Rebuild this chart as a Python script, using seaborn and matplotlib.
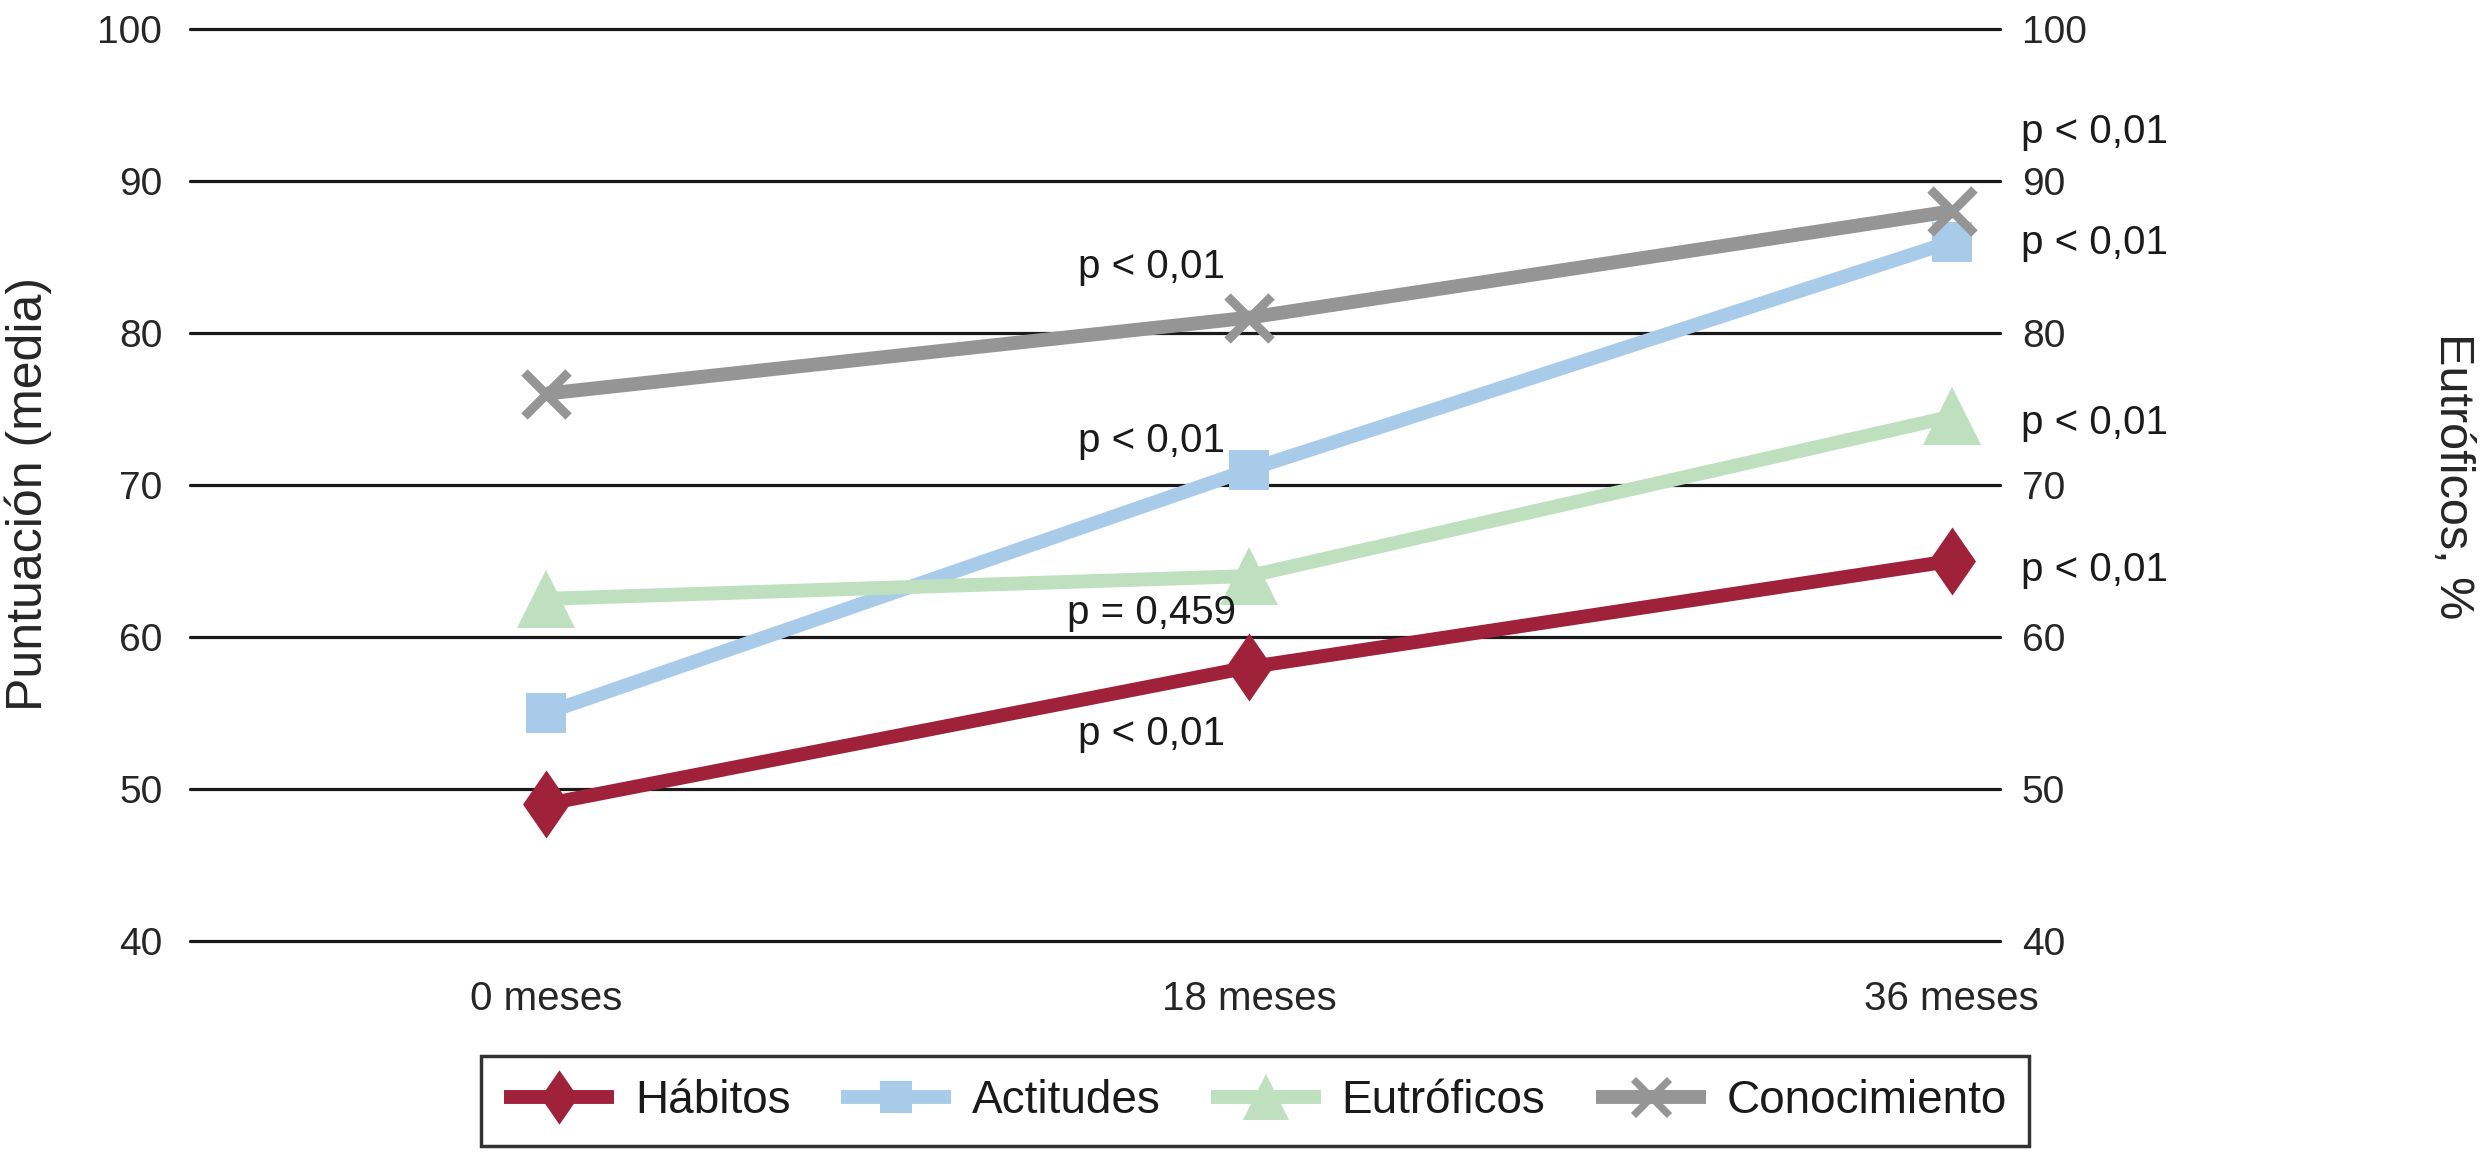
import matplotlib
matplotlib.use("Agg")
import matplotlib.pyplot as plt
from matplotlib.lines import Line2D
import pandas as pd
import seaborn as sns

months = ["0 meses", "18 meses", "36 meses"]
habitos = [49, 58, 65]
actitudes = [55, 71, 86]
eutroficos = [62.5, 64, 74.5]
conocimiento = [76, 81, 88]

series_names = ["Hábitos", "Actitudes", "Eutróficos", "Conocimiento"]
mid_labels = ["p < 0,01", "p < 0,01", "p = 0,459", "p < 0,01"]
end_labels = ["p < 0,01", "p < 0,01", "p < 0,01", "p < 0,01"]

sns.set_theme(style="white")
plt.rcParams["font.family"] = ["Liberation Sans", "DejaVu Sans"]
plt.rcParams["text.color"] = "#1a1a1a"

# fat diamond like the original (wider than 'd', narrower than 'D')
diamond = [(0, 1), (0.69, 0), (0, -1), (-0.69, 0), (0, 1)]

styles = {
    "Hábitos": dict(color="#A0213A", marker=diamond, ms=49, mew=0),
    "Actitudes": dict(color="#A9CBEA", marker="s", ms=29, mew=0),
    "Eutróficos": dict(color="#BFE0BF", marker="^", ms=42, mew=0),
    "Conocimiento": dict(color="#959595", marker="x", ms=32, mew=6.5),
}

df = pd.DataFrame({
    "mes": months * 4,
    "valor": habitos + actitudes + eutroficos + conocimiento,
    "serie": [s for s in series_names for _ in months],
})

fig = plt.figure(figsize=(24.84, 11.53), dpi=100)
ax = fig.add_axes([0.0765, 0.184, 0.7285, 0.791])

for y in range(40, 101, 10):
    ax.axhline(y, color="#1a1a1a", lw=2.3, zorder=1, clip_on=False)

handles = []
for name in series_names:
    st = styles[name]
    sub = df[df["serie"] == name]
    n_before = len(ax.lines)
    sns.lineplot(data=sub, x="mes", y="valor", ax=ax, color=st["color"], zorder=3)
    # seaborn resets some line props, so set them on the drawn line directly
    for ln in ax.lines[n_before:]:
        ln.set_linewidth(10)
        ln.set_marker(st["marker"])
        ln.set_markersize(st["ms"])
        ln.set_markeredgewidth(st["mew"])
        ln.set_markeredgecolor(st["color"])
        ln.set_markerfacecolor(st["color"])
        ln.set_solid_capstyle("butt")
    handles.append(Line2D([], [], color=st["color"], linewidth=10, marker=st["marker"],
                          markersize=st["ms"] * 0.8, markeredgewidth=st["mew"] * 0.8,
                          markeredgecolor=st["color"], solid_capstyle="butt"))

ax.set_xlim(-0.507, 2.068)
ax.set_ylim(40, 100)
ax.set_yticks(range(40, 101, 10))
ax.set_xlabel("")
ax.set_ylabel("Puntuación (media)", fontsize=36, va="center")
ax.yaxis.set_label_coords(-0.0893, 0.49)
for s in ax.spines.values():
    s.set_visible(False)
ax.tick_params(axis="y", length=0, labelsize=28, pad=20)
ax.tick_params(axis="x", length=0, labelsize=29, pad=28)

ax2 = ax.twinx()
ax2.set_ylim(40, 100)
ax2.set_yticks(range(40, 101, 10))
for s in ax2.spines.values():
    s.set_visible(False)
ax2.tick_params(axis="y", length=0, labelsize=28, pad=16)
ax2.set_ylabel("Eutróficos, %", fontsize=35, rotation=270, va="center")
ax2.yaxis.set_label_coords(1.25, 0.51)

mid_y = [53.6, 72.9, 61.6, 84.3]
end_y = [64.4, 85.9, 74.1, 93.2]
for lab, y in zip(mid_labels, mid_y):
    ax.text(0.861, y, lab, fontsize=29, ha="center", va="center", zorder=4)
for lab, y in zip(end_labels, end_y):
    ax.text(2.203, y, lab, fontsize=29, ha="center", va="center", zorder=4)

leg = fig.legend(handles, series_names, loc="center", bbox_to_anchor=(0.5054, 0.045),
                 ncol=4, frameon=True, fancybox=False, fontsize=33, handlelength=2.4,
                 columnspacing=1.1, handletextpad=0.45, borderpad=0.5)
leg.get_frame().set_edgecolor("black")
leg.get_frame().set_linewidth(2.5)

fig.savefig("out.png", dpi=100)
